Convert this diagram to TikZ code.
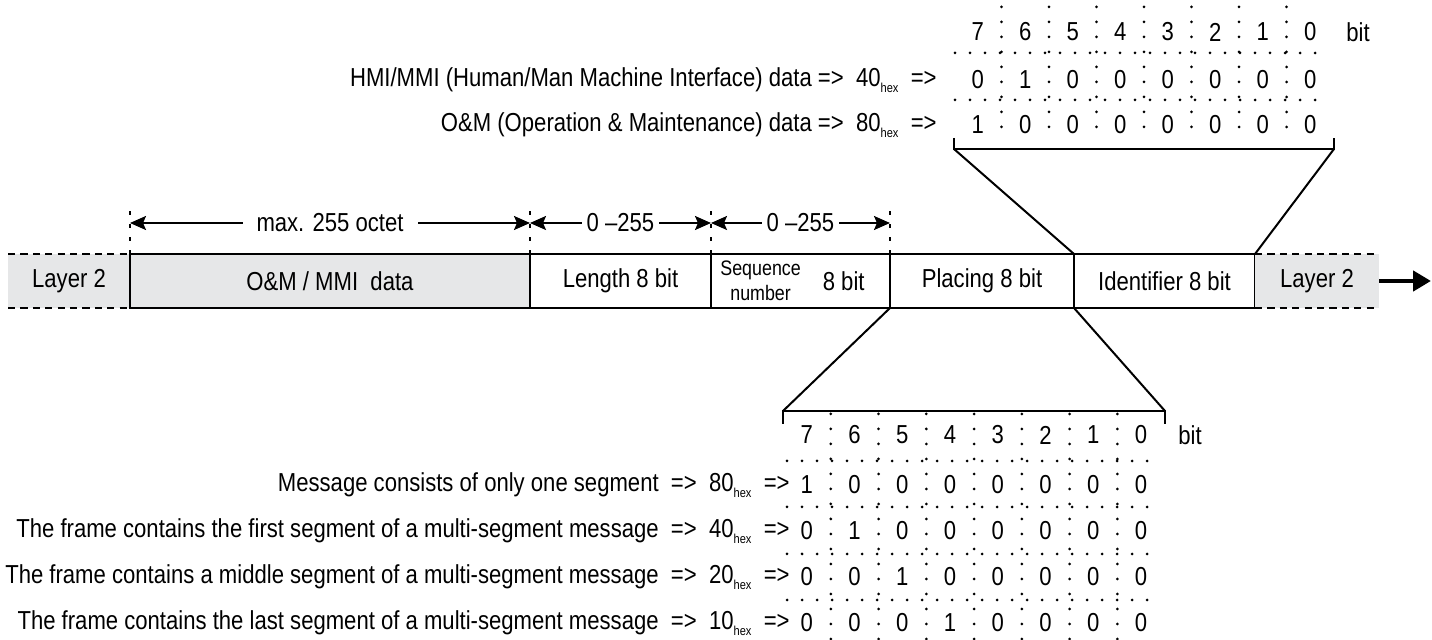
\documentclass[tikz,border=0pt]{standalone}
\usepackage{fontspec}
\setmainfont{Liberation Sans}[FakeStretch=0.85]
\usepackage{xcolor}
\usepackage{tikz}
\usetikzlibrary{arrows.meta, positioning, calc}

\definecolor{layergray}{HTML}{E6E7E8}
\newcommand{\hexsub}{\raisebox{-0.45ex}{\fontsize{6.5}{6.5}\selectfont hex}}

\begin{document}
\begin{tikzpicture}[
    x=0.5pt, y=-0.5pt,
    font=\fontsize{13}{15}\selectfont,
    field/.style={rectangle, draw=black, line width=1.2pt, minimum height=27pt, inner sep=0pt, outer sep=0pt, fill=white},
    grayfield/.style={field, fill=layergray},
    layerbox/.style={rectangle, fill=layergray, minimum height=27pt, inner sep=0pt, outer sep=0pt},
    edge/.style={line width=1.3pt, dash pattern=on 3.6pt off 2.6pt},
    ext/.style={line width=1pt, dash pattern=on 2.2pt off 4.3pt},
    dim/.style={line width=1pt, {Stealth[length=8pt, width=7pt, inset=1.5pt]}-{Stealth[length=8pt, width=7pt, inset=1.5pt]}},
    bracket/.style={line width=1pt},
    dotline/.style={line width=1.5pt, line cap=round, dash pattern=on 0pt off 7.5pt},
    bitcell/.style={inner sep=0pt},
    rowtext/.style={anchor=east, inner sep=0pt}
]
    \useasboundingbox (0,0) rectangle (1432,640);

    % frame
    \node[layerbox, minimum width=61pt, anchor=west] (layerL) at (8,281) {Layer 2};
    \node[grayfield, minimum width=200pt, right=0pt of layerL] (data) {O\&M / MMI~~data};
    \node[field, minimum width=90.5pt, right=0pt of data] (length) {Length 8 bit};
    \node[field, minimum width=89.5pt, right=0pt of length] (seq) {};
    \node[field, minimum width=92pt, right=0pt of seq] (placing) {Placing 8 bit};
    \node[field, minimum width=90.5pt, right=0pt of placing] (ident) {Identifier 8 bit};
    \node[layerbox, minimum width=62pt, right=0pt of ident] (layerR) {Layer 2};
    \node[inner sep=0pt, align=center, anchor=west, font=\fontsize{10.5}{12.5}\selectfont] (seqname) at ($(seq.west)+(9,0)$) {Sequence\\number};
    \node[inner sep=0pt, anchor=east] (seqbits) at ($(seq.east)+(-25,0)$) {8 bit};

    \draw[edge] (layerL.north west) -- (layerL.north east);
    \draw[edge] (layerL.south west) -- (layerL.south east);
    \draw[edge] (layerR.north west) -- (layerR.north east);
    \draw[edge] (layerR.south west) -- (layerR.south east);
    \coordinate (out) at (1431,281);
    \draw[line width=2.4pt, -{Triangle[length=9pt, width=10pt]}] (layerR.east) -- (out);

    % octet ranges
    \draw[ext] (data.north west) -- ++(0,-51);
    \draw[ext] (data.north east) -- ++(0,-51);
    \draw[ext] (seq.north west) -- ++(0,-51);
    \draw[ext] (seq.north east) -- ++(0,-51);
    \coordinate (dimA) at ($(data.north west)+(0,-31)$);
    \coordinate (dimB) at ($(data.north east)+(0,-31)$);
    \coordinate (dimC) at ($(seq.north west)+(0,-31)$);
    \coordinate (dimD) at ($(seq.north east)+(0,-31)$);
    \draw[dim] (dimA) -- node[fill=white, inner xsep=7pt] {max. 255 octet} (dimB);
    \draw[dim] (dimB) -- node[fill=white, inner xsep=2.5pt] {0 --255} (dimC);
    \draw[dim] (dimC) -- node[fill=white, inner xsep=2.5pt] {0 --255} (dimD);

    % identifier bits
    \coordinate (idL) at (954,149);
    \coordinate (idR) at (1334,149);
    \draw[bracket] ($(idL)+(0,-11)$) -- (idL) -- (idR) -- ++(0,-11);
    \draw[bracket] (idL) -- (ident.north west);
    \draw[bracket] (idR) -- (ident.north east);
    \foreach \i in {1,...,7}
        \draw[dotline] ({954+47.5*\i},7) -- ({954+47.5*\i},137);
    \foreach \y in {53,100}
        \draw[dotline] (955,\y) -- (1328,\y);
    \foreach \b [count=\i] in {7,6,...,0}
        \node[bitcell] (tbit\i) at ({954+47.5*(\i-0.5)},32) {\b};
    \node[bitcell] (tbitname) at (1358,32) {bit};
    \foreach \b [count=\i] in {0,1,0,0,0,0,0,0}
        \node[bitcell] (thmi\i) at ({954+47.5*(\i-0.5)},80) {\b};
    \foreach \b [count=\i] in {1,0,0,0,0,0,0,0}
        \node[bitcell] (tom\i) at ({954+47.5*(\i-0.5)},125) {\b};
    \node[rowtext] (hmi) at (937,80) {HMI/MMI (Human/Man Machine Interface) data =>~~40\hexsub~~=>};
    \node[rowtext] (om) at (937,125) {O\&M (Operation \& Maintenance) data =>~~80\hexsub~~=>};

    % placing bits
    \coordinate (plL) at (783,411);
    \coordinate (plR) at (1165,411);
    \draw[bracket] ($(plL)+(0,13)$) -- (plL) -- (plR) -- ++(0,13);
    \draw[bracket] (placing.south west) -- (plL);
    \draw[bracket] (placing.south east) -- (plR);
    \foreach \i in {1,...,7}
        \draw[dotline] ({783+47.75*\i},414) -- ({783+47.75*\i},640);
    \foreach \y in {461,507,554,600}
        \draw[dotline] (787,\y) -- (1160,\y);
    \foreach \b [count=\i] in {7,6,...,0}
        \node[bitcell] (pbit\i) at ({783+47.75*(\i-0.5)},435) {\b};
    \node[bitcell] (pbitname) at (1190,435) {bit};
    \foreach \bits/\y in {{1,0,0,0,0,0,0,0}/485, {0,1,0,0,0,0,0,0}/531, {0,0,1,0,0,0,0,0}/577, {0,0,0,1,0,0,0,0}/623}
        \foreach \b [count=\i] in \bits
            \node[bitcell] (prow\y c\i) at ({783+47.75*(\i-0.5)},\y) {\b};
    \node[rowtext] (single) at (790,485) {Message consists of only one segment~~=>~~80\hexsub~~=>};
    \node[rowtext] (first) at (790,531) {The frame contains the first segment of a multi-segment message~~=>~~40\hexsub~~=>};
    \node[rowtext] (middle) at (790,577) {The frame contains a middle segment of a multi-segment message~~=>~~20\hexsub~~=>};
    \node[rowtext] (last) at (790,623) {The frame contains the last segment of a multi-segment message~~=>~~10\hexsub~~=>};
\end{tikzpicture}
\end{document}
